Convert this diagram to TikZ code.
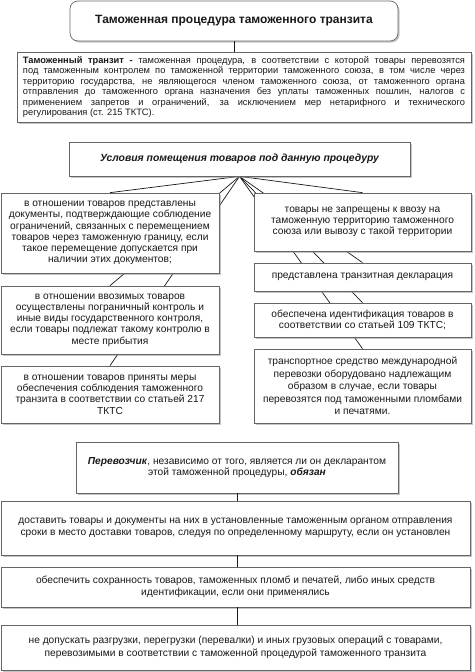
\documentclass[tikz,border=0pt]{standalone}
\usepackage{fontspec}
\setmainfont{Liberation Sans}
\usetikzlibrary{shadows,backgrounds}

\begin{document}
\begin{tikzpicture}[x=1pt,y=-1pt,
	box/.style={draw=black!60, fill=white, line width=0.7pt, align=center, inner sep=2pt, text=black!90,
		drop shadow={shadow xshift=1.6pt, shadow yshift=-1.6pt, fill=black!45, opacity=0.5},
		font=\fontsize{10.2}{11.3}\selectfont},
	link/.style={draw=black!90, line width=0.7pt}]

			\useasboundingbox (0,0) rectangle (474,672);

			\node[box, rounded corners=8pt, minimum width=328pt, minimum height=40pt, font=\fontsize{12}{14}\selectfont\bfseries] (title) at (234,21){Таможенная процедура таможенного транзита};

			\node[box, align=justify, text width=442pt, inner xsep=6pt, minimum height=70pt, font=\fontsize{9.3}{10.4}\selectfont] (def) at (244,87){\textbf{Таможенный транзит -} таможенная процедура, в соответствии с которой товары перевозятся\linebreak
			под таможенным контролем по таможенной территории таможенного союза, в том числе через\linebreak
			территорию государства, не являющегося членом таможенного союза, от таможенного органа\linebreak
			отправления до таможенного органа назначения без уплаты таможенных пошлин, налогов с\linebreak
			применением запретов и ограничений, за исключением мер нетарифного и технического\linebreak
			регулирования (ст. 215 ТКТС).};

			\node[box, minimum width=341pt, minimum height=34pt, font=\fontsize{10.4}{12}\selectfont\bfseries\itshape] (cond) at (239.5,159){Условия помещения товаров под данную процедуру};

			\node[box, minimum width=218pt, minimum height=80pt] (L1) at (110,233){в отношении товаров представлены\\ документы, подтверждающие соблюдение\\ ограничений, связанных с перемещением\\ товаров через таможенную границу, если\\ такое перемещение допускается при\\ наличии этих документов;};
			\node[box, minimum width=218pt, minimum height=68pt] (L2) at (110,320){в отношении ввозимых товаров\\ осуществлены пограничный контроль и\\ иные виды государственного контроля,\\ если товары подлежат такому контролю в\\ месте прибытия};
			\node[box, minimum width=218pt, minimum height=57pt] (L3) at (110,394.5){в отношении товаров приняты меры\\ обеспечения соблюдения таможенного\\ транзита в соответствии со статьей 217\\ ТКТС};

			\node[box, minimum width=217pt, minimum height=58pt] (R1) at (362.5,222){товары не запрещены к ввозу на\\ таможенную территорию таможенного\\ союза или вывозу с такой территории};
			\node[box, minimum width=217pt, minimum height=28pt] (R2) at (362.5,277){представлена транзитная декларация};
			\node[box, minimum width=217pt, minimum height=34pt] (R3) at (362.5,320){обеспечена идентификация товаров в\\ соответствии со статьей 109 ТКТС;};
			\node[box, minimum width=217pt, minimum height=74pt, font=\fontsize{10.2}{12.5}\selectfont] (R4) at (362.5,386){транспортное средство международной\\ перевозки оборудовано надлежащим\\ образом в случае, если товары\\ перевозятся под таможенными пломбами\\ и печатями.};

			\node[box, minimum width=322pt, minimum height=51pt, font=\fontsize{10.2}{11.8}\selectfont] (carrier) at (237,467.5){\textbf{\textit{Перевозчик}}, независимо от того, является ли он декларантом\\ этой таможенной процедуры, \textbf{\textit{обязан}}};
			\coordinate (axis) at (carrier.south);

			\node[box, minimum width=469pt, minimum height=54pt, font=\fontsize{10.2}{12}\selectfont] (B1) at (235.5,528){доставить товары и документы на них в установленные таможенным органом отправления\\ сроки в место доставки товаров, следуя по определенному маршруту, если он установлен};
			\node[box, minimum width=469pt, minimum height=40pt, font=\fontsize{10.2}{12}\selectfont] (B2) at (235.5,587){обеспечить сохранность товаров, таможенных пломб и печатей, либо иных средств\\ идентификации, если они применялись};
			\node[box, minimum width=469pt, minimum height=45pt, font=\fontsize{10.2}{12.5}\selectfont] (B3) at (235.5,647.5){не допускать разгрузки, перегрузки (перевалки) и иных грузовых операций с товарами,\\ перевозимыми в соответствии с таможенной процедурой таможенного транзита};

			\draw[link] (title.south) -- (title.south |- def.north);
			\draw[link] (axis) -- (axis |- B1.north);
			\draw[link] (B1.south -| axis) -- (B2.north -| axis);
			\draw[link] (B2.south -| axis) -- (B3.north -| axis);

			\begin{scope}[on background layer]
				\foreach \n in {L1,L2,L3,R1,R2,R3,R4}
					\draw[link] (cond.south) -- (\n.north);
			\end{scope}

		\end{tikzpicture}
\end{document}
